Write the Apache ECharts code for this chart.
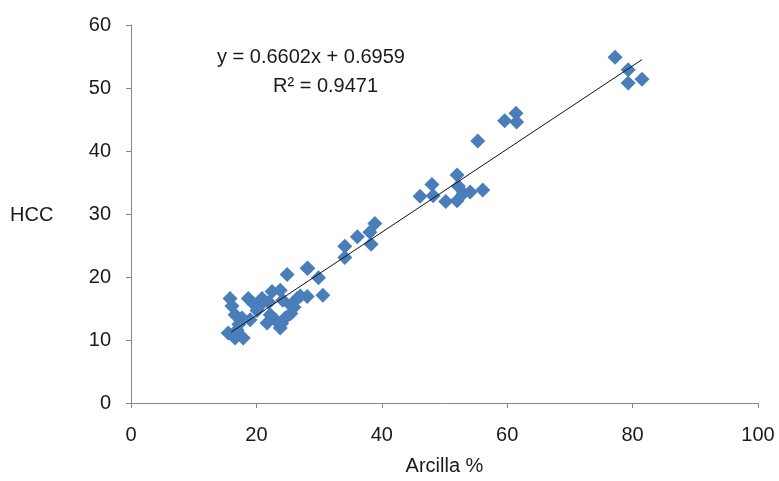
<!DOCTYPE html>
<html>
<head>
<meta charset="UTF-8">
<title>HCC vs Arcilla</title>
<script src="https://cdn.jsdelivr.net/npm/echarts@6/dist/echarts.min.js"></script>
<style>
  html, body { margin: 0; padding: 0; background: #fff; }
  #chart { width: 779px; height: 481px; }
</style>
</head>
<body>
<div id="chart"></div>
<script>
// Arcilla % (x) and HCC (y)
var arcilla = [
  15.8, 16.1, 16.6, 16.9, 15.5, 16.6, 17.9, 17.7, 18.7, 19.0,
  20.1, 20.9, 21.7, 22.2, 22.5, 23.0, 23.8, 23.8, 24.2, 24.6,
  24.9, 26.5, 25.5, 27.0, 28.1, 28.2, 17.2, 19.5, 21.0, 25.5,
  28.1, 29.9, 30.6, 34.1, 34.1, 36.1, 38.1, 38.3, 38.9, 46.1,
  48.0, 48.2, 50.2, 52.0, 52.0, 52.2, 53.0, 54.1, 56.1, 55.3,
  59.6, 61.5, 61.4, 77.2, 79.3, 79.3, 81.5, 24.0, 22.0, 26.0
];
var hcc = [
  16.6, 15.4, 14.0, 11.6, 11.1, 10.3, 10.3, 13.5, 16.6, 13.2,
  14.7, 16.6, 12.7, 14.0, 17.7, 13.2, 17.9, 11.9, 16.3, 13.5,
  20.4, 16.6, 15.5, 17.0, 16.9, 21.4, 12.5, 15.8, 15.9, 14.2,
  21.4, 19.9, 17.1, 24.9, 23.1, 26.4, 27.1, 25.2, 28.5, 32.8,
  34.7, 32.9, 32.0, 36.2, 32.1, 34.4, 33.3, 33.5, 33.8, 41.6,
  44.8, 44.6, 46.0, 54.9, 52.9, 50.8, 51.4, 12.6, 16.0, 15.2
];

var slope = 0.6602;
var intercept = 0.6959;
var trendX = [16, 81.5];

var xTicks = [0, 20, 40, 60, 80, 100];
var yTicks = [0, 10, 20, 30, 40, 50, 60];

var points = arcilla.map(function (x, i) { return [x, hcc[i]]; });
var trend = trendX.map(function (x) { return [x, slope * x + intercept]; });

var chart = echarts.init(document.getElementById('chart'), null, { renderer: 'canvas' });
var axisGray = '#868686';
var font = 'Liberation Sans, Arial, sans-serif';

chart.setOption({
  animation: false,
  backgroundColor: '#fff',
  grid: { left: 131, right: 21, top: 25, bottom: 75 },
  xAxis: {
    type: 'value',
    min: xTicks[0],
    max: xTicks[xTicks.length - 1],
    interval: 20,
    name: 'Arcilla %',
    nameLocation: 'middle',
    nameGap: 53,
    nameTextStyle: { color: '#1a1a1a', fontSize: 20, fontFamily: font },
    axisLine: { show: true, lineStyle: { color: axisGray, width: 1 } },
    axisTick: { show: true, length: 5, lineStyle: { color: axisGray } },
    axisLabel: { color: '#1a1a1a', fontSize: 20, fontFamily: font, margin: 22 },
    splitLine: { show: false }
  },
  yAxis: {
    type: 'value',
    min: yTicks[0],
    max: yTicks[yTicks.length - 1],
    interval: 10,
    axisLine: { show: true, lineStyle: { color: axisGray, width: 1 } },
    axisTick: { show: true, length: 5, lineStyle: { color: axisGray } },
    axisLabel: { color: '#1a1a1a', fontSize: 20, fontFamily: font, margin: 20 },
    splitLine: { show: false }
  },
  graphic: [
    { type: 'text', left: 10, top: 205,
      style: { text: 'HCC', fill: '#1a1a1a', font: '20px ' + font } },
    { type: 'text', left: 217, top: 47,
      style: { text: 'y = 0.6602x + 0.6959', fill: '#1a1a1a', font: '20px ' + font } },
    { type: 'text', left: 273, top: 76,
      style: { text: 'R² = 0.9471', fill: '#1a1a1a', font: '20px ' + font } }
  ],
  series: [
    {
      type: 'scatter',
      data: points,
      symbol: 'diamond',
      symbolSize: [15, 15],
      itemStyle: { color: '#4a7ebb', opacity: 1 },
      z: 2
    },
    {
      type: 'line',
      data: trend,
      symbol: 'none',
      lineStyle: { color: '#111', width: 1 },
      z: 3
    }
  ]
});
</script>
</body>
</html>
